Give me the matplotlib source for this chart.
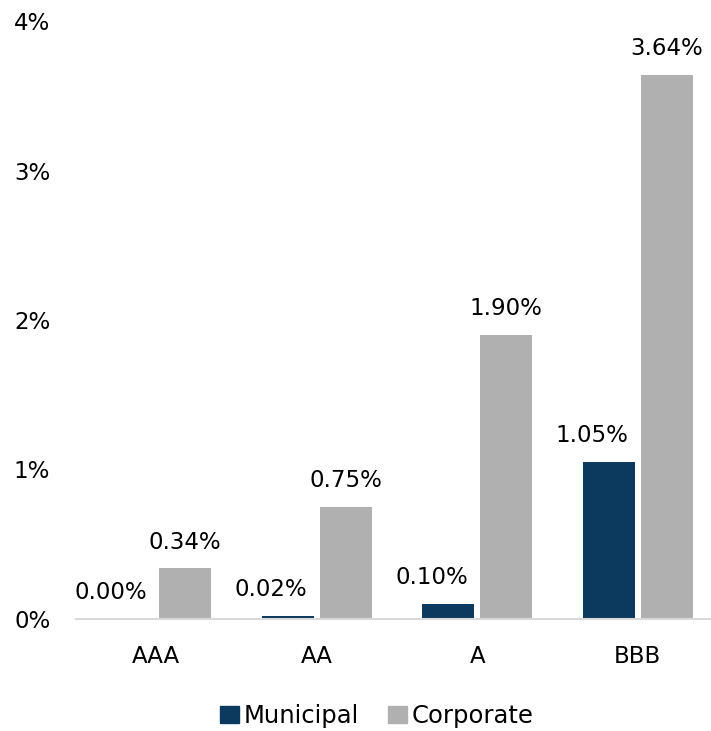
import matplotlib
matplotlib.use("Agg")
import matplotlib.pyplot as plt
import numpy as np
from matplotlib.patches import Patch

categories = ["AAA", "AA", "A", "BBB"]
municipal = [0.00, 0.02, 0.10, 1.05]
corporate = [0.34, 0.75, 1.90, 3.64]
yticks = [0, 1, 2, 3, 4]
ytick_labels = ["0%", "1%", "2%", "3%", "4%"]

plt.rcParams['font.family'] = ['DejaVu Sans']
FS = 16.5
LFS = 17.5
C_MUNI = "#0c3a5f"
C_CORP = "#b0b0b0"

W, H = 711, 731
fig = plt.figure(figsize=(W/100, H/100), dpi=100)
ax = fig.add_axes([76/W, 1 - 619/H, 642/W, 598/H])

x = np.arange(len(categories))
bw = 0.324
off = 0.18
b1 = ax.bar(x - off, municipal, bw, color=C_MUNI, zorder=2)
b2 = ax.bar(x + off, corporate, bw, color=C_CORP, zorder=2)

for rect, v in zip(b1, municipal):
    ax.annotate(f"{v:.2f}%", (rect.get_x() + rect.get_width()/2, rect.get_height()),
                xytext=(-12, 11), textcoords="offset points", ha="center", va="bottom",
                fontsize=FS)
for rect, v in zip(b2, corporate):
    ax.annotate(f"{v:.2f}%", (rect.get_x() + rect.get_width()/2, rect.get_height()),
                xytext=(0, 10.5), textcoords="offset points", ha="center", va="bottom",
                fontsize=FS)

ax.set_xlim(-0.5, len(categories) - 0.5)
ax.set_ylim(0, 4)
ax.set_yticks(yticks)
ax.set_yticklabels(ytick_labels, fontsize=FS)
ax.set_xticks(x)
ax.set_xticklabels(categories, fontsize=FS)
ax.tick_params(axis="y", length=0, pad=18.5)
ax.tick_params(axis="x", length=0, pad=19)
for s in ["top", "right", "left"]:
    ax.spines[s].set_visible(False)
ax.spines["bottom"].set_color("#d9d9d9")
ax.spines["bottom"].set_linewidth(1.5)
ax.spines["bottom"].set_zorder(3)

handles = [Patch(color=C_MUNI, label="Municipal"), Patch(color=C_CORP, label="Corporate")]
fig.legend(handles=handles, loc="center", bbox_to_anchor=(377/W, 1 - 716/H),
           ncol=2, frameon=False, fontsize=LFS, handlelength=0.78, handleheight=0.66,
           handletextpad=0.2, columnspacing=1.2, borderpad=0, borderaxespad=0)

fig.savefig("out.png", dpi=100)
